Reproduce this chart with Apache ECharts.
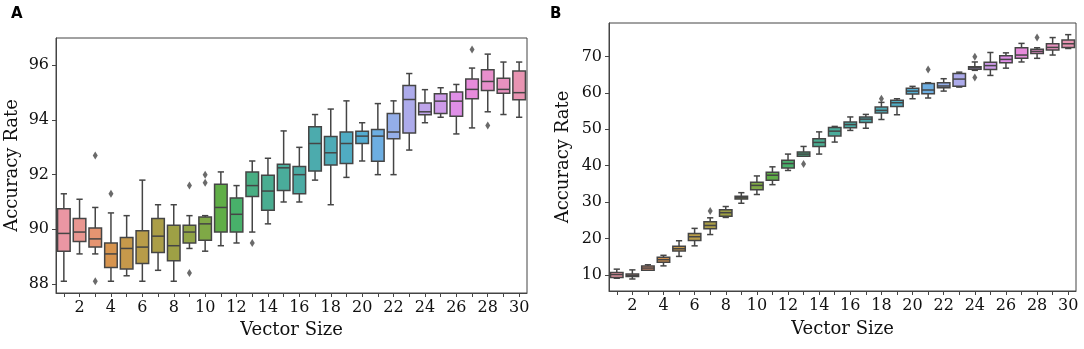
<!DOCTYPE html>
<html>
<head>
<meta charset="utf-8">
<script src="https://cdn.jsdelivr.net/npm/echarts@6/dist/echarts.min.js"></script>
<style>html,body{margin:0;padding:0;background:#fff}#c{width:1084px;height:349px}</style>
</head>
<body>
<div id="c"></div>
<script>
// ---------- DATA ----------
const categories = ['1','2','3','4','5','6','7','8','9','10','11','12','13','14','15','16','17','18','19','20','21','22','23','24','25','26','27','28','29','30'];
const ticksA = [88, 90, 92, 94, 96];
const ticksB = [10, 20, 30, 40, 50, 60, 70];

// Panel A: accuracy rate boxplot stats per vector size
const aMin = [88.1, 89.1, 89.1, 88.1, 88.3, 88.1, 88.5, 88.1, 89.3, 89.2, 89.4, 89.5, 89.9, 90.2, 91.0, 91.0, 91.8, 90.9, 91.9, 92.5, 92.0, 92.0, 92.9, 93.9, 94.1, 93.49, 93.71, 94.3, 94.2, 94.1];
const aQ1  = [89.2, 89.55, 89.35, 88.6, 88.55, 88.75, 89.15, 88.85, 89.5, 89.6, 89.9, 89.9, 91.2, 90.7, 91.42, 91.3, 92.13, 92.35, 92.41, 93.14, 92.49, 93.31, 93.52, 94.19, 94.24, 94.14, 94.78, 95.08, 94.98, 94.74];
const aMed = [89.85, 89.9, 89.65, 89.1, 89.3, 89.35, 89.75, 89.4, 89.9, 90.2, 90.8, 90.55, 91.6, 91.4, 92.25, 92.0, 93.14, 92.8, 93.14, 93.41, 93.41, 93.56, 94.75, 94.3, 94.69, 94.69, 95.12, 95.41, 95.12, 95.0];
const aQ3  = [90.75, 90.4, 90.05, 89.5, 89.7, 89.95, 90.4, 90.15, 90.15, 90.45, 91.65, 91.15, 92.1, 91.98, 92.38, 92.3, 93.75, 93.4, 93.56, 93.59, 93.65, 94.24, 95.26, 94.62, 94.96, 95.02, 95.5, 95.84, 95.53, 95.79];
const aMax = [91.3, 91.1, 90.8, 90.6, 90.5, 91.8, 90.9, 90.9, 90.5, 90.5, 92.1, 91.6, 92.5, 92.6, 93.6, 93.0, 94.2, 94.4, 94.7, 93.9, 94.6, 94.7, 95.7, 95.11, 95.18, 95.3, 95.9, 96.41, 96.12, 96.12];
const aOutCat = ['3', '3', '4', '9', '9', '10', '10', '13', '27', '28'];
const aOutVal = [92.7, 88.1, 91.3, 91.6, 88.4, 92.0, 91.7, 89.5, 96.58, 93.8];

// Panel B
const bMin = [9.1, 8.9, 11.3, 12.5, 15.1, 18.0, 21.1, 25.8, 29.7, 32.1, 34.8, 38.7, 42.6, 43.2, 46.5, 49.7, 50.3, 52.7, 54.0, 58.4, 58.6, 60.5, 61.6, 66.2, 64.8, 66.8, 68.5, 69.5, 70.4, 72.2];
const bQ1  = [9.3, 9.55, 11.3, 13.5, 16.6, 19.5, 22.7, 26.1, 30.85, 33.4, 36.0, 39.4, 42.6, 45.3, 48.2, 50.4, 51.9, 54.5, 56.3, 59.7, 59.8, 61.4, 61.8, 66.5, 66.4, 68.3, 69.5, 70.8, 71.8, 72.5];
const bMed = [10.1, 9.9, 11.9, 14.2, 17.2, 20.5, 23.6, 27.1, 31.2, 34.6, 37.4, 40.6, 43.2, 46.4, 49.5, 51.3, 52.8, 55.2, 57.3, 60.5, 60.8, 61.9, 63.8, 66.9, 67.5, 69.2, 70.4, 71.4, 72.5, 73.5];
const bQ3  = [10.7, 10.25, 12.5, 14.9, 17.9, 21.4, 24.6, 27.9, 31.65, 35.5, 38.2, 41.5, 43.8, 47.4, 50.5, 52.0, 53.4, 56.1, 58.0, 61.3, 62.6, 62.8, 65.3, 67.2, 68.4, 70.2, 72.4, 72.0, 73.5, 74.5];
const bMax = [11.6, 11.4, 12.8, 15.4, 19.4, 22.8, 25.7, 28.8, 32.6, 37.2, 39.7, 43.2, 45.3, 49.3, 50.8, 53.4, 54.1, 57.4, 58.4, 61.8, 62.8, 63.9, 65.7, 68.5, 71.1, 71.0, 73.6, 72.4, 75.2, 76.0];
const bOutCat = ['7', '13', '18', '21', '24', '24', '28'];
const bOutVal = [27.6, 40.5, 58.4, 66.4, 69.9, 64.2, 75.2];

// ---------- seaborn-like husl palette ----------
const M = [[3.2406,-1.5372,-0.4986],[-0.9689,1.8758,0.0415],[0.0557,-0.2040,1.0570]];
function maxChroma(L, H) {
  const hr = H * Math.PI / 180, s = Math.sin(hr), c = Math.cos(hr);
  const sub1 = Math.pow(L + 16, 3) / 1560896;
  const sub2 = sub1 > 0.008856 ? sub1 : L / 903.3;
  let res = Infinity;
  for (const [m1, m2, m3] of M) {
    const top = (0.99915*m1 + 1.05122*m2 + 1.14460*m3) * sub2;
    const rb = 0.86330*m3 - 0.17266*m2;
    const lb = 0.12949*m3 - 0.38848*m1;
    const bottom = (rb*s + lb*c) * sub2;
    for (const t of [0, 1]) {
      const C = L * (top - 1.05122*t) / (bottom + 0.17266*s*t);
      if (C > 0 && C < res) res = C;
    }
  }
  return res;
}
function huslToRgb(H, S, L) {
  const C = maxChroma(L, H) / 100 * S;
  const hr = H * Math.PI / 180;
  const U = Math.cos(hr) * C, V = Math.sin(hr) * C;
  const refU = 0.19784, refV = 0.46834;
  const t = (L + 16) / 116;
  const Y = Math.pow(t, 3) > 0.008856 ? Math.pow(t, 3) : (116*t - 16) / 903.3;
  const vU = U / (13*L) + refU, vV = V / (13*L) + refV;
  const X = -(9*Y*vU) / ((vU - 4)*vV - vU*vV);
  const Z = (9*Y - 15*vV*Y - vV*X) / (3*vV);
  return M.map(r => {
    const c = r[0]*X + r[1]*Y + r[2]*Z;
    const v = c <= 0.0031308 ? 12.92*c : 1.055*Math.pow(c, 1/2.4) - 0.055;
    return Math.min(1, Math.max(0, v));
  });
}
const nC = categories.length;
const rgbs = [];
for (let i = 0; i < nC; i++) {
  let h = (i / nC + 0.01) % 1;
  const rgb = huslToRgb(h * 359, 0.9 * 99, 0.7 * 99);
  const l = (Math.max(...rgb) + Math.min(...rgb)) / 2;
  rgbs.push(rgb.map(c => l + (c - l) * 0.75));
}
const toHex = rgb => '#' + rgb.map(c => Math.round(c * 255).toString(16).padStart(2, '0')).join('');
const colors = rgbs.map(toHex);
const lum = Math.min(...rgbs.map(r => (Math.max(...r) + Math.min(...r)) / 2)) * 0.6;
const gray = toHex([lum, lum, lum]);

// ---------- chart ----------
const FONT = 'DejaVu Serif';
function boxRender(params, api) {
  const x = api.value(0);
  const lo = api.coord([x, api.value(1)]);
  const q1 = api.coord([x, api.value(2)]);
  const md = api.coord([x, api.value(3)]);
  const q3 = api.coord([x, api.value(4)]);
  const hi = api.coord([x, api.value(5)]);
  const bw = api.size([1, 0])[0] * 0.8;
  const cx = lo[0];
  const cw = bw * 0.25;
  const ls = { stroke: gray, lineWidth: 1.5 };
  return {
    type: 'group',
    children: [
      { type: 'line', shape: { x1: cx, y1: hi[1], x2: cx, y2: q3[1] }, style: ls },
      { type: 'line', shape: { x1: cx, y1: q1[1], x2: cx, y2: lo[1] }, style: ls },
      { type: 'line', shape: { x1: cx - cw, y1: hi[1], x2: cx + cw, y2: hi[1] }, style: ls },
      { type: 'line', shape: { x1: cx - cw, y1: lo[1], x2: cx + cw, y2: lo[1] }, style: ls },
      { type: 'rect', shape: { x: cx - bw / 2, y: q3[1], width: bw, height: q1[1] - q3[1] },
        style: { fill: colors[params.dataIndex], stroke: gray, lineWidth: 1.5 } },
      { type: 'line', shape: { x1: cx - bw / 2, y1: md[1], x2: cx + bw / 2, y2: md[1] }, style: ls }
    ]
  };
}
function boxData(mn, q1, md, q3, mx) {
  return categories.map((c, i) => [i, mn[i], q1[i], md[i], q3[i], mx[i]]);
}
function outData(cats, vals) {
  return cats.map((c, i) => [categories.indexOf(c), vals[i]]);
}
function xAxis(gi, gap) {
  return {
    type: 'category', gridIndex: gi, data: categories, boundaryGap: true,
    name: 'Vector Size', nameLocation: 'middle', nameGap: gap,
    nameTextStyle: { fontFamily: FONT, fontSize: 18, color: '#111' },
    axisLine: { show: true, lineStyle: { color: '#444', width: 1 } },
    axisTick: { show: true, alignWithLabel: true, interval: 0, length: 4, lineStyle: { color: '#444' } },
    axisLabel: { interval: (idx) => idx % 2 === 1, margin: 7, fontFamily: FONT, fontSize: 16, color: '#111' },
    splitLine: { show: false }
  };
}
function yAxis(gi, mn, mx, ticks, gap) {
  return {
    type: 'value', gridIndex: gi, min: mn, max: mx,
    name: 'Accuracy Rate', nameLocation: 'middle', nameGap: gap,
    nameTextStyle: { fontFamily: FONT, fontSize: 18, color: '#111' },
    axisLine: { show: true, lineStyle: { color: '#444', width: 1 } },
    axisTick: { show: true, length: 4, customValues: ticks, lineStyle: { color: '#444' } },
    axisLabel: { customValues: ticks, margin: 7, fontFamily: FONT, fontSize: 16, color: '#111' },
    splitLine: { show: false }
  };
}
const chart = echarts.init(document.getElementById('c'), null, { renderer: 'canvas' });
chart.setOption({
  animation: false,
  backgroundColor: '#fff',
  graphic: [
    { type: 'text', left: 11, top: 7, style: { text: 'A', font: 'bold 15px "DejaVu Sans"', fill: '#000' } },
    { type: 'text', left: 550, top: 7, style: { text: 'B', font: 'bold 15px "DejaVu Sans"', fill: '#000' } }
  ],
  grid: [
    { left: 56, right: 557, top: 38, bottom: 56, show: true, borderColor: '#444', borderWidth: 1, backgroundColor: 'transparent' },
    { left: 609, right: 8, top: 23, bottom: 58, show: true, borderColor: '#444', borderWidth: 1, backgroundColor: 'transparent' }
  ],
  xAxis: [xAxis(0, 27), xAxis(1, 29)],
  yAxis: [yAxis(0, 87.67, 97.0, ticksA, 35), yAxis(1, 5.6, 79.2, ticksB, 37)],
  series: [
    { type: 'custom', xAxisIndex: 0, yAxisIndex: 0, renderItem: boxRender, data: boxData(aMin, aQ1, aMed, aQ3, aMax), encode: { x: 0, y: [1, 2, 3, 4, 5] } },
    { type: 'scatter', xAxisIndex: 0, yAxisIndex: 0, symbol: 'diamond', symbolSize: [5, 8], itemStyle: { color: gray }, data: outData(aOutCat, aOutVal), z: 5 },
    { type: 'custom', xAxisIndex: 1, yAxisIndex: 1, renderItem: boxRender, data: boxData(bMin, bQ1, bMed, bQ3, bMax), encode: { x: 0, y: [1, 2, 3, 4, 5] } },
    { type: 'scatter', xAxisIndex: 1, yAxisIndex: 1, symbol: 'diamond', symbolSize: [5, 8], itemStyle: { color: gray }, data: outData(bOutCat, bOutVal), z: 5 }
  ]
});
</script>
</body>
</html>
